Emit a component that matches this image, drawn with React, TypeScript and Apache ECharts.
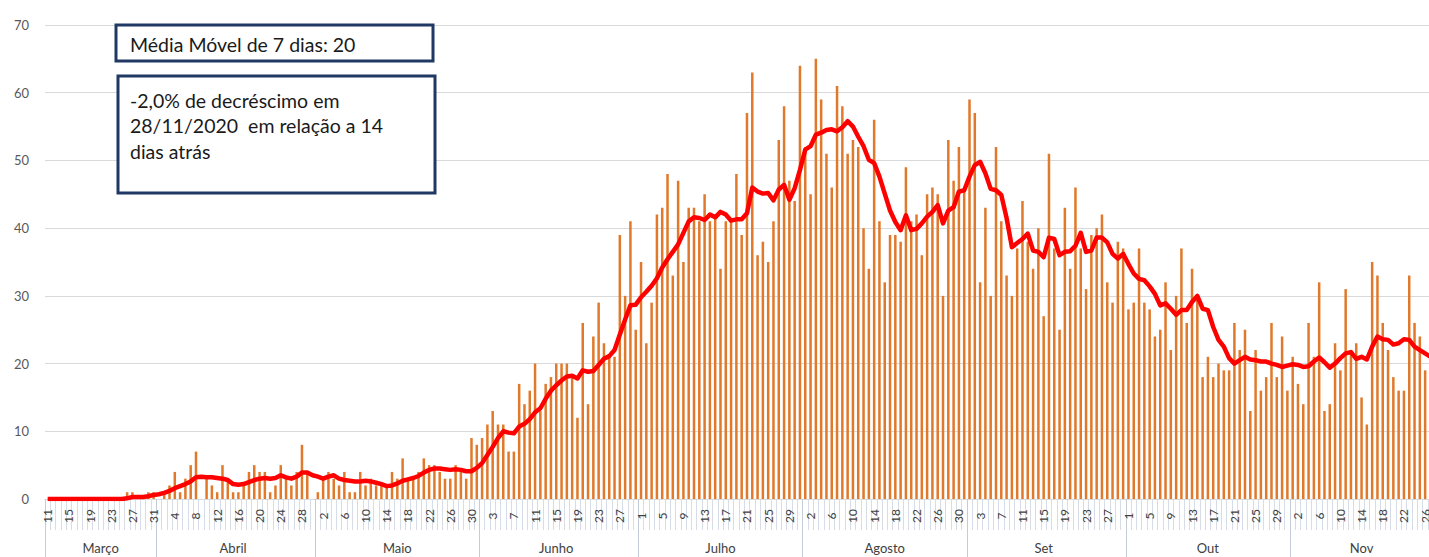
import React, { useEffect, useRef } from 'react';
import * as echarts from 'echarts';

// ---- Data ----
const MONTHS = ['Março', 'Abril', 'Maio', 'Junho', 'Julho', 'Agosto', 'Set', 'Out', 'Nov'];
const MONTH_FIRST_DAY = [11, 1, 1, 1, 1, 1, 1, 1, 1];
const MONTH_LAST_DAY = [31, 30, 31, 30, 31, 31, 30, 31, 28];

// daily cases
const marBars = [0, 0, 0, 0, 0, 0, 0, 0, 0, 0, 0, 0, 0, 0, 0, 1, 1, 0, 0, 1, 1];
const aprBars = [0, 1, 2, 4, 1, 3, 5, 7, 0, 3, 2, 1, 5, 3, 1, 1, 2, 4, 5, 4, 4, 1, 2, 5, 3, 2, 4, 8, 4, 0];
const mayBars = [1, 3, 4, 3, 2, 4, 1, 1, 4, 2, 3, 2, 2, 2, 4, 3, 6, 3, 3, 4, 6, 5, 5, 4, 3, 3, 5, 4, 3, 9, 8];
const junBars = [9, 11, 13, 11, 11, 7, 7, 17, 14, 16, 20, 13, 17, 18, 20, 20, 20, 18, 12, 26, 14, 24, 29, 23, 21, 21, 39, 30, 41, 25];
const julBars = [35, 23, 29, 42, 43, 48, 33, 47, 35, 43, 43, 41, 45, 41, 42, 34, 41, 41, 48, 39, 57, 63, 36, 38, 35, 41, 53, 58, 47, 44, 64];
const augBars = [52, 45, 65, 59, 51, 46, 61, 58, 51, 53, 52, 40, 34, 56, 41, 32, 39, 39, 38, 49, 41, 42, 36, 45, 46, 45, 30, 53, 47, 52, 46];
const sepBars = [59, 57, 32, 43, 30, 52, 41, 33, 30, 37, 44, 38, 34, 40, 27, 51, 37, 25, 43, 34, 46, 37, 31, 39, 40, 42, 32, 29, 38, 37];
const octBars = [28, 29, 37, 29, 28, 24, 25, 32, 22, 30, 37, 26, 34, 30, 18, 21, 18, 20, 19, 19, 26, 22, 25, 13, 22, 16, 18, 26, 18, 24, 16];
const novBars = [21, 17, 14, 26, 21, 32, 13, 14, 23, 19, 31, 22, 23, 15, 11, 35, 33, 26, 22, 18, 16, 16, 33, 26, 24, 19, 21, 15];

// 7-day moving average
const marMA = [0, 0, 0, 0, 0, 0, 0, 0, 0, 0, 0, 0, 0, 0, 0, 0.1, 0.3, 0.3, 0.3, 0.4, 0.6];
const aprMA = [0.7, 0.9, 1.2, 1.6, 1.9, 2.2, 2.6, 3.2, 3.3, 3.2, 3.2, 3.1, 3.0, 2.8, 2.2, 2.1, 2.2, 2.5, 2.8, 3.0, 3.1, 3.0, 3.1, 3.5, 3.2, 3.0, 3.3, 3.9, 3.9, 3.5];
const mayMA = [3.3, 3.0, 3.3, 3.5, 3.0, 2.8, 2.7, 2.6, 2.6, 2.7, 2.6, 2.4, 2.2, 1.9, 2.0, 2.3, 2.7, 2.9, 3.1, 3.4, 3.9, 4.3, 4.5, 4.5, 4.4, 4.3, 4.4, 4.3, 4.1, 4.1, 4.6];
const junMA = [5.3, 6.5, 7.7, 9.0, 10.0, 9.8, 9.7, 10.7, 11.1, 11.8, 12.8, 13.4, 14.8, 16.0, 16.8, 17.5, 18.1, 18.2, 17.8, 19.0, 18.8, 18.9, 19.8, 20.7, 21.1, 22.0, 24.3, 26.5, 28.6, 28.7];
const julMA = [29.8, 30.6, 31.5, 32.6, 34.2, 35.4, 36.5, 37.6, 39.3, 41.0, 41.6, 41.5, 41.2, 42.0, 41.6, 42.4, 42.0, 41.1, 41.3, 41.3, 42.2, 46.0, 45.4, 45.1, 45.2, 44.1, 45.7, 46.4, 44.2, 45.9, 48.6];
const augMA = [51.6, 52.1, 53.8, 54.1, 54.5, 54.6, 54.3, 54.9, 55.8, 55.0, 53.5, 52.1, 50.1, 49.6, 47.6, 45.1, 42.6, 40.9, 39.7, 41.9, 39.7, 39.9, 40.7, 41.7, 42.4, 43.4, 40.7, 42.6, 43.1, 45.4, 45.6];
const sepMA = [47.6, 49.3, 49.8, 48.1, 45.8, 45.6, 44.9, 41.5, 37.2, 37.8, 38.4, 39.2, 36.7, 36.5, 35.7, 38.6, 38.4, 36.0, 36.5, 36.6, 37.4, 39.3, 36.5, 36.7, 38.6, 38.6, 37.9, 36.2, 35.5, 36.2];
const octMA = [34.7, 33.3, 32.5, 32.3, 31.4, 30.3, 28.6, 28.9, 28.1, 27.2, 27.9, 27.9, 29.1, 30.0, 28.1, 27.9, 25.4, 23.5, 22.5, 20.8, 20.0, 20.5, 21.0, 20.6, 20.5, 20.3, 20.3, 20.0, 19.8, 19.5, 19.7];
const novMA = [19.9, 19.8, 19.5, 19.6, 20.3, 20.9, 20.2, 19.4, 20.0, 20.8, 21.5, 21.7, 20.7, 21.0, 20.6, 22.5, 24.0, 23.6, 23.5, 22.8, 23.0, 23.6, 23.5, 22.5, 22.0, 21.5, 21.0, 20.0];

const Y_TICKS = { min: 0, max: 70, interval: 10 };

const BOX1_TEXT = 'Média Móvel de 7 dias: 20';
const BOX2_LINES = ['-2,0% de decréscimo em', '28/11/2020  em relação a 14', 'dias atrás'];

// ---- Derived tables ----
const bars = [...marBars, ...aprBars, ...mayBars, ...junBars, ...julBars, ...augBars, ...sepBars, ...octBars, ...novBars];
const movingAvg = [...marMA, ...aprMA, ...mayMA, ...junMA, ...julMA, ...augMA, ...sepMA, ...octMA, ...novMA];

const dayLabels: string[] = [];
const monthStart: boolean[] = [];
const monthLabel: string[] = [];
MONTHS.forEach((m, mi) => {
  const startIdx = dayLabels.length;
  for (let d = MONTH_FIRST_DAY[mi]; d <= MONTH_LAST_DAY[mi]; d++) {
    dayLabels.push(String(d));
    monthStart.push(d === MONTH_FIRST_DAY[mi]);
    monthLabel.push('');
  }
  const endIdx = dayLabels.length - 1;
  monthLabel[Math.floor((startIdx + endIdx) / 2)] = m;
});

const FONT = 'Lato, Carlito, "Open Sans", sans-serif';

export default function App() {
  const ref = useRef<HTMLDivElement>(null);
  useEffect(() => {
    const chart = echarts.init(ref.current!, null, { renderer: 'svg' });
    const n = dayLabels.length;
    const option: any = {
      animation: false,
      backgroundColor: '#ffffff',
      grid: { left: 45, top: 25, bottom: 58, width: n * 5.298 },
      xAxis: [
        {
          type: 'category',
          data: dayLabels,
          position: 'bottom',
          axisLine: { show: true, lineStyle: { color: '#d9d9d9', width: 1 } },
          axisTick: { show: true, interval: 0, length: 31, lineStyle: { color: '#d6dde8', width: 1 } },
          axisLabel: {
            interval: 3,
            rotate: 90,
            align: 'center',
            margin: 17,
            fontSize: 12,
            color: '#404040',
            fontFamily: FONT,
          },
          splitLine: { show: false },
        },
        {
          type: 'category',
          data: monthLabel,
          position: 'bottom',
          axisLine: { show: false },
          axisTick: {
            show: true,
            interval: (idx: number) => monthStart[idx] === true,
            length: 60,
            lineStyle: { color: '#c3ccd8', width: 1 },
          },
          axisLabel: {
            interval: 0,
            margin: 42,
            fontSize: 13,
            color: '#404040',
            fontFamily: FONT,
          },
          splitLine: { show: false },
        },
      ],
      yAxis: {
        type: 'value',
        min: Y_TICKS.min,
        max: Y_TICKS.max,
        interval: Y_TICKS.interval,
        axisLine: { show: false },
        axisTick: { show: false },
        axisLabel: { margin: 16, fontSize: 13, color: '#595959', fontFamily: FONT },
        splitLine: { lineStyle: { color: '#d9d9d9', width: 1 } },
      },
      series: [
        {
          type: 'bar',
          data: bars,
          barWidth: 2.5,
          itemStyle: { color: '#E0792B' },
          z: 2,
        },
        {
          type: 'line',
          data: movingAvg,
          symbol: 'none',
          lineStyle: { color: '#FF0000', width: 4.5, join: 'round' },
          z: 3,
        },
      ],
      graphic: [
        {
          type: 'rect',
          shape: { x: 116, y: 25, width: 317, height: 36 },
          style: { fill: '#ffffff', stroke: '#1F3864', lineWidth: 3 },
          z: 10,
        },
        {
          type: 'text',
          x: 130,
          y: 44,
          style: { text: BOX1_TEXT, fill: '#1a1a1a', fontSize: 19.5, fontFamily: FONT, verticalAlign: 'middle' },
          z: 11,
        },
        {
          type: 'rect',
          shape: { x: 118, y: 76, width: 317, height: 117 },
          style: { fill: '#ffffff', stroke: '#1F3864', lineWidth: 3 },
          z: 10,
        },
        ...BOX2_LINES.map((t, i) => ({
          type: 'text',
          x: 130,
          y: 100 + i * 25.5,
          style: { text: t, fill: '#1a1a1a', fontSize: 19.5, fontFamily: FONT, verticalAlign: 'middle' },
          z: 11,
        })),
      ],
    };
    chart.setOption(option);
    return () => chart.dispose();
  }, []);
  return (
    <div style={{ position: 'fixed', left: 0, top: 0, width: 1429, height: 557, overflow: 'hidden', background: '#fff' }}>
      <div ref={ref} style={{ width: 1442, height: 557 }} />
    </div>
  );
}
